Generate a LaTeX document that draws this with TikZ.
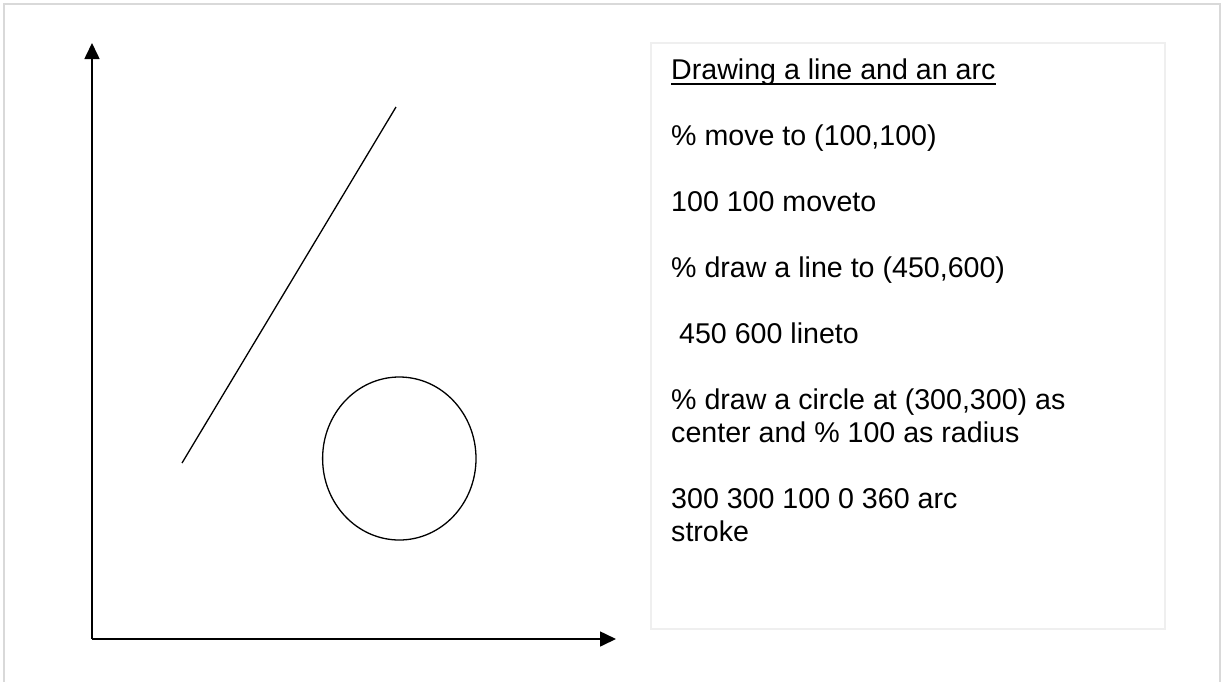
\documentclass[tikz,border=0pt]{standalone}
\usepackage{fontspec}
\setmainfont{Liberation Sans}
\usetikzlibrary{arrows.meta}
\definecolor{framegray}{HTML}{D9D9D9}
\definecolor{boxgray}{HTML}{EFEFEF}
\begin{document}
\begin{tikzpicture}[x=1pt,y=-1pt,
  axis/.style={line width=1.6pt,-{Triangle[length=16pt,width=15pt]}},
  figline/.style={line width=1.3pt},
  codetext/.style={anchor=base west,inner sep=0pt,font=\fontsize{28.6}{33}\selectfont}]
\useasboundingbox (0,0) rectangle (1221,681);
% outer frame
\draw[framegray,line width=2pt] (4,700) -- (4,4) -- (1220,4) -- (1220,700);
% text box
\draw[boxgray,line width=2pt] (651,43) rectangle (1165,629);
% axes
\coordinate (origin) at (92,639);
\coordinate (ytip) at (92,43);
\coordinate (xtip) at (616,639);
\draw[axis] (origin) -- (ytip);
\draw[axis] (origin) -- (xtip);
% line and circle
\coordinate (la) at (182,463);
\coordinate (lb) at (396,107);
\draw[figline] (la) -- (lb);
\coordinate (cc) at (399.3,458.5);
\draw[figline] (cc) ellipse [x radius=76.7, y radius=81.5];
% text
\node[codetext] (title) at (671,79) {Drawing a line and an arc};
\draw[line width=1.8pt] ([yshift=-5pt]title.base west) -- ([yshift=-5pt]title.base east);
\node[codetext] (t1) at (671,145) {\% move to (100,100)};
\node[codetext] (t2) at (671,211) {100 100 moveto};
\node[codetext] (t3) at (671,277) {\% draw a line to (450,600)};
\node[codetext] (t4) at (671,343) {\ 450 600 lineto};
\node[codetext] (t5) at (671,409) {\% draw a circle at (300,300) as};
\node[codetext] (t6) at (671,442) {center and \% 100 as radius};
\node[codetext] (t7) at (671,508) {300 300 100 0 360 arc};
\node[codetext] (t8) at (671,541) {stroke};
\end{tikzpicture}
\end{document}
